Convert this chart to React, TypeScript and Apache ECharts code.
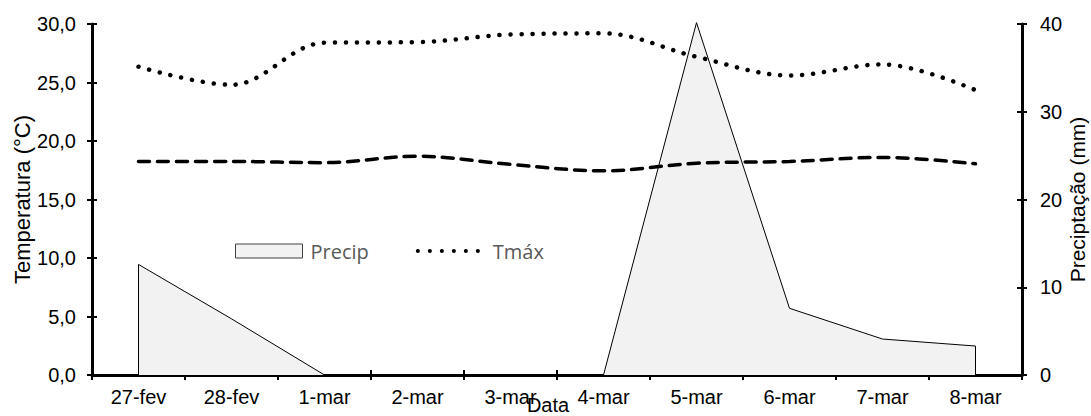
import React, { useEffect, useRef } from "react";
import * as echarts from "echarts";

const categories = ["27-fev", "28-fev", "1-mar", "2-mar", "3-mar", "4-mar", "5-mar", "6-mar", "7-mar", "8-mar"];
const precip = [12.6, 6.4, 0, 0, 0, 0, 40.15, 7.6, 4.1, 3.3];
const tmax = [26.35, 24.8, 28.4, 28.45, 29.1, 29.2, 27.2, 25.6, 26.55, 24.35];
const tmin = [18.25, 18.25, 18.15, 18.7, 18.0, 17.45, 18.1, 18.25, 18.6, 18.05];
const tempTicks = { min: 0, max: 30, interval: 5 };
const precipTicks = { min: 0, max: 40, interval: 10 };

const FONT = "'Liberation Sans', Arial, sans-serif";

export default function App() {
  const ref = useRef<HTMLDivElement>(null);
  useEffect(() => {
    if (!ref.current) return;
    const chart = echarts.init(ref.current, undefined, { renderer: "svg" });
    const axisLine = { show: true, lineStyle: { color: "#000", width: 3 } };
    const tickOut = { show: true, inside: false, length: 5, lineStyle: { color: "#000", width: 2 } };
    const tickIn = { show: true, inside: true, length: 5, lineStyle: { color: "#000", width: 2 } };
    const label = { color: "#000", fontSize: 20, fontFamily: FONT };
    const last = categories.length - 1;
    const dotted = { color: "#000", width: 4.5, type: [0.1, 10.9], cap: "round" };
    chart.setOption({
      animation: false,
      backgroundColor: "#fff",
      grid: { left: 92, right: 69, top: 24, bottom: 41, containLabel: false, outerBoundsMode: "none" },
      legend: {
        left: 235,
        top: 241,
        padding: 0,
        itemWidth: 67,
        itemHeight: 14,
        itemGap: 47,
        textStyle: { color: "#595959", fontSize: 20, fontFamily: "'Open Sans', sans-serif", padding: [0, 0, 0, 3] },
        data: [
          { name: "Precip", icon: "rect", itemStyle: { color: "#f2f2f2", borderColor: "#404040", borderWidth: 1 } },
          {
            name: "Tmáx",
            itemStyle: { color: "transparent", borderWidth: 0, opacity: 0 },
            lineStyle: { ...dotted, width: 4, type: [0.1, 11.9] },
          },
        ],
      },
      xAxis: [
        {
          type: "category",
          data: categories,
          position: "bottom",
          boundaryGap: true,
          axisLine,
          axisTick: { ...tickOut, interval: 0 },
          axisLabel: { ...label, margin: 12, interval: 0 },
          splitLine: { show: false },
          name: "Data",
          nameLocation: "middle",
          nameGap: 20,
          nameMoveOverlap: false,
          nameTextStyle: { ...label, padding: [0, 18, 0, 0] },
        },
        {
          type: "category",
          data: categories,
          position: "bottom",
          boundaryGap: true,
          axisLine: { show: false },
          axisTick: { ...tickIn, interval: 0 },
          axisLabel: { show: false },
          splitLine: { show: false },
        },
      ],
      yAxis: [
        {
          type: "value",
          position: "left",
          ...tempTicks,
          axisLine,
          axisTick: tickOut,
          axisLabel: { ...label, margin: 16, formatter: (v: number) => v.toFixed(1).replace(".", ",") },
          splitLine: { show: false },
          name: "Temperatura (°C)",
          nameLocation: "middle",
          nameGap: 59,
          nameRotate: 90,
          nameMoveOverlap: false,
          nameTextStyle: { ...label, fontSize: 22 },
        },
        {
          type: "value",
          position: "right",
          ...precipTicks,
          axisLine,
          axisTick: tickOut,
          axisLabel: { ...label, margin: 18 },
          splitLine: { show: false },
          name: "Preciptação (mm)",
          nameLocation: "middle",
          nameGap: 45,
          nameRotate: 90,
          nameMoveOverlap: false,
          nameTextStyle: { ...label, fontSize: 21 },
        },
        {
          type: "value",
          position: "left",
          ...tempTicks,
          axisLine: { show: false },
          axisTick: tickIn,
          axisLabel: { show: false },
          splitLine: { show: false },
        },
        {
          type: "value",
          position: "right",
          ...precipTicks,
          axisLine: { show: false },
          axisTick: tickIn,
          axisLabel: { show: false },
          splitLine: { show: false },
        },
      ],
      series: [
        {
          name: "Precip",
          type: "line",
          xAxisIndex: 0,
          yAxisIndex: 1,
          data: precip,
          symbol: "none",
          clip: false,
          lineStyle: { color: "#000", width: 1 },
          itemStyle: { color: "#f2f2f2", borderColor: "#404040" },
          areaStyle: { color: "#f2f2f2", opacity: 1 },
          z: 1,
          markLine: {
            silent: true,
            symbol: "none",
            label: { show: false },
            lineStyle: { color: "#000", width: 1, type: "solid" },
            data: [
              [{ coord: [categories[0], 0] }, { coord: [categories[0], precip[0]] }],
              [{ coord: [categories[last], 0] }, { coord: [categories[last], precip[last]] }],
            ],
          },
        },
        {
          name: "Tmáx",
          type: "line",
          xAxisIndex: 0,
          yAxisIndex: 0,
          data: tmax,
          symbol: "none",
          smooth: 0.35,
          lineStyle: dotted,
          itemStyle: { color: "#000" },
          z: 3,
        },
        {
          name: "Tmín",
          type: "line",
          xAxisIndex: 0,
          yAxisIndex: 0,
          data: tmin,
          symbol: "none",
          smooth: 0.35,
          lineStyle: { color: "#000", width: 3.5, type: [11, 8], cap: "round" },
          itemStyle: { color: "#000" },
          z: 3,
        },
      ],
    });
    return () => chart.dispose();
  }, []);
  return <div ref={ref} style={{ position: "fixed", left: 0, top: 0, width: 1091, height: 416 }} />;
}
